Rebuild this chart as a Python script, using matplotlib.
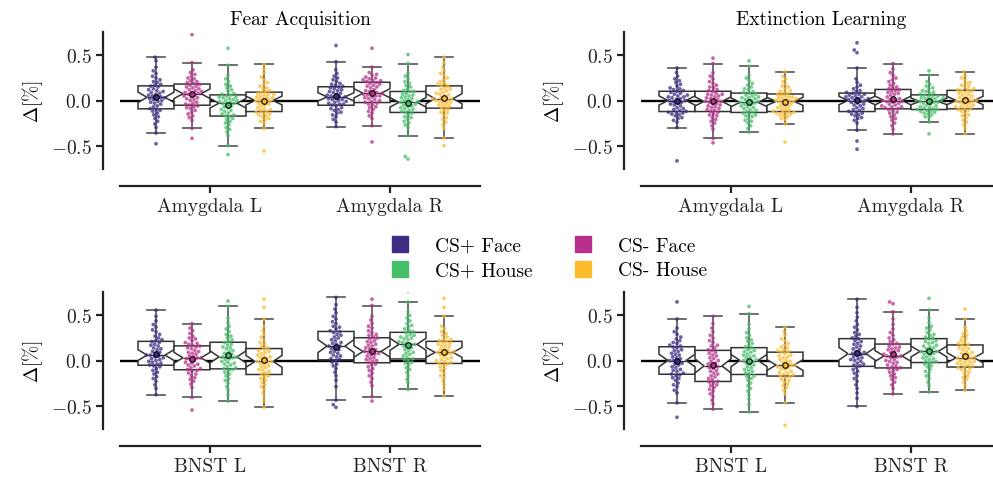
import pandas as pd
import matplotlib
matplotlib.use("Agg")
import matplotlib.pyplot as plt
import seaborn as sns
from matplotlib.lines import Line2D

plt.rcParams["font.family"] = "serif"
plt.rcParams["font.serif"] = ["cmr10"]
plt.rcParams["mathtext.fontset"] = "cm"
plt.rcParams["axes.formatter.use_mathtext"] = True
plt.rcParams["axes.unicode_minus"] = True

conditions = ["CS+ Face", "CS- Face", "CS+ House", "CS- House"]
colors = ["#3e2c84", "#b8308b", "#46bf6a", "#fcba2c"]
phases = ["Fear Acquisition", "Extinction Learning"]
roi_rows = [["Amygdala L", "Amygdala R"], ["BNST L", "BNST R"]]

# signal change per subject, in hundredths of a percent
# order inside each list of lists: CS+ Face, CS- Face, CS+ House, CS- House
fa_amy_l = [
    [-48, -36, -30, -26, -23, -20, -18, -16, -14, -12, -11, -10, -9, -7, -6, -4, -3, -2, -1, 0, 1, 2, 3, 3,
     4, 5, 6, 7, 8, 9, 10, 11, 12, 13, 15, 16, 17, 18, 20, 21, 23, 25, 27, 30, 33, 37, 44, 48],
    [-42, -31, -22, -19, -17, -15, -13, -11, -9, -8, -7, -6, -5, -4, -3, -2, 0, 1, 2, 3, 4, 5, 6, 7,
     8, 9, 9, 10, 11, 12, 13, 14, 15, 16, 17, 18, 19, 20, 21, 22, 24, 25, 27, 29, 31, 34, 42, 73],
    [-60, -50, -39, -35, -32, -30, -27, -25, -23, -21, -20, -18, -17, -16, -15, -14, -12, -11, -10, -8, -7, -6, -4, -3,
     -3, -2, -1, 0, 0, 1, 2, 3, 4, 4, 5, 6, 7, 8, 10, 12, 14, 16, 18, 21, 24, 28, 39, 58],
    [-56, -31, -25, -23, -21, -20, -18, -17, -16, -15, -14, -13, -12, -11, -10, -9, -8, -6, -5, -4, -3, -2, -1, 0,
     0, 1, 2, 3, 3, 4, 5, 6, 7, 7, 8, 9, 10, 11, 13, 14, 16, 18, 20, 23, 26, 30, 35, 40],
]
fa_amy_r = [
    [-29, -24, -21, -18, -16, -14, -13, -11, -10, -9, -8, -6, -5, -4, -4, -3, -2, -1, 0, 1, 1, 2, 3, 4,
     4, 5, 6, 7, 8, 9, 10, 11, 12, 13, 14, 15, 16, 17, 18, 19, 21, 23, 25, 27, 30, 34, 43, 61],
    [-46, -28, -20, -17, -14, -12, -10, -8, -7, -5, -4, -3, -2, -1, 0, 1, 2, 3, 4, 5, 5, 6, 7, 8,
     8, 9, 10, 11, 12, 14, 15, 16, 17, 18, 19, 20, 21, 22, 22, 23, 24, 25, 26, 28, 29, 31, 37, 58],
    [-65, -62, -39, -30, -27, -25, -23, -21, -19, -18, -16, -14, -13, -12, -11, -10, -9, -8, -7, -6, -5, -4, -3, -2,
     -2, -1, 0, 1, 2, 3, 4, 5, 6, 7, 8, 10, 10, 11, 13, 15, 17, 19, 21, 24, 27, 30, 41, 51],
    [-50, -42, -31, -27, -24, -21, -19, -16, -14, -13, -11, -10, -8, -7, -6, -5, -4, -3, -2, -1, 0, 0, 1, 2,
     2, 3, 5, 6, 7, 8, 9, 11, 12, 13, 14, 16, 17, 18, 19, 21, 23, 25, 28, 30, 33, 37, 42, 48],
]
el_amy_l = [
    [-67, -30, -24, -22, -20, -19, -17, -16, -15, -14, -13, -13, -12, -11, -10, -9, -8, -6, -5, -4, -3, -2, -1, 0,
     0, 1, 2, 3, 4, 4, 5, 6, 7, 8, 9, 10, 11, 12, 13, 14, 16, 18, 20, 22, 24, 27, 31, 36],
    [-47, -42, -32, -28, -25, -23, -21, -19, -17, -16, -15, -13, -12, -11, -10, -9, -8, -7, -6, -5, -4, -3, -2, -1,
     -1, 0, 1, 2, 3, 4, 5, 6, 7, 7, 8, 10, 11, 12, 14, 15, 17, 19, 21, 24, 27, 31, 41, 47],
    [-35, -31, -28, -25, -23, -22, -20, -18, -17, -16, -15, -14, -13, -12, -11, -10, -9, -8, -7, -6, -5, -4, -3, -2,
     -2, -1, 0, 1, 2, 3, 3, 4, 5, 6, 7, 8, 9, 10, 12, 13, 15, 17, 19, 22, 25, 28, 38, 44],
    [-46, -26, -21, -20, -18, -17, -16, -15, -14, -14, -13, -13, -12, -11, -10, -9, -8, -7, -6, -5, -4, -3, -2, -1,
     -1, 0, 0, 1, 2, 2, 3, 4, 4, 5, 6, 7, 8, 9, 10, 11, 13, 15, 16, 18, 21, 24, 27, 32],
]
el_amy_r = [
    [-54, -45, -33, -25, -22, -20, -19, -17, -16, -15, -14, -13, -12, -11, -10, -9, -8, -6, -5, -4, -3, -2, -1, 0,
     0, 1, 2, 2, 3, 4, 4, 5, 6, 7, 7, 8, 9, 10, 11, 13, 15, 17, 20, 24, 36, 53, 56, 64],
    [-37, -32, -28, -25, -22, -20, -18, -16, -14, -13, -11, -10, -9, -8, -7, -7, -6, -5, -4, -3, -2, -1, -1, 0,
     0, 1, 2, 3, 4, 6, 7, 8, 9, 10, 11, 12, 13, 14, 15, 17, 19, 21, 23, 25, 28, 31, 35, 41],
    [-37, -24, -19, -18, -16, -15, -14, -13, -12, -12, -11, -10, -10, -9, -8, -8, -7, -6, -5, -4, -3, -2, -2, -1,
     -1, 0, 0, 1, 2, 2, 3, 3, 4, 5, 5, 6, 7, 8, 9, 10, 11, 13, 14, 16, 18, 21, 28, 33],
    [-37, -31, -27, -24, -22, -19, -17, -16, -14, -12, -11, -10, -9, -8, -7, -7, -6, -5, -4, -3, -2, -1, -1, 0,
     0, 1, 2, 3, 4, 5, 6, 7, 8, 9, 10, 11, 12, 12, 13, 15, 16, 17, 19, 20, 23, 25, 28, 32],
]
fa_bnst_l = [
    [-38, -31, -27, -23, -20, -18, -15, -13, -11, -9, -7, -6, -5, -4, -3, -2, -1, 0, 1, 2, 3, 4, 5, 6,
     6, 8, 9, 10, 12, 13, 14, 16, 17, 18, 20, 21, 22, 23, 25, 27, 29, 32, 34, 37, 40, 44, 49, 56],
    [-55, -41, -30, -26, -23, -21, -19, -17, -15, -14, -12, -11, -10, -9, -8, -6, -5, -4, -3, -2, 0, 1, 2, 3,
     3, 4, 5, 7, 8, 9, 10, 11, 13, 14, 15, 16, 17, 18, 19, 20, 22, 24, 25, 27, 30, 33, 36, 41],
    [-45, -38, -33, -29, -25, -22, -20, -17, -15, -13, -11, -10, -9, -8, -7, -5, -4, -3, -2, -1, 1, 2, 3, 4,
     4, 6, 7, 8, 10, 11, 13, 14, 15, 17, 18, 20, 21, 23, 25, 27, 29, 32, 35, 38, 42, 47, 60, 66],
    [-52, -45, -40, -36, -32, -29, -27, -24, -22, -20, -18, -17, -15, -14, -12, -11, -10, -8, -7, -6, -4, -3, -2, -1,
     -1, 0, 2, 3, 4, 5, 6, 8, 9, 10, 11, 13, 14, 16, 18, 20, 23, 26, 29, 33, 38, 46, 59, 68],
]
fa_bnst_r = [
    [-52, -49, -44, -29, -22, -17, -13, -9, -6, -4, -2, 0, 1, 2, 4, 5, 6, 8, 9, 10, 12, 13, 14, 16,
     16, 18, 19, 20, 22, 23, 25, 26, 28, 29, 31, 32, 33, 35, 37, 38, 41, 43, 46, 49, 53, 57, 62, 70],
    [-45, -40, -28, -24, -20, -17, -14, -11, -9, -7, -5, -4, -2, -1, 0, 1, 2, 3, 5, 6, 7, 8, 9, 10,
     10, 12, 13, 14, 16, 17, 18, 20, 21, 22, 24, 25, 26, 28, 29, 31, 33, 36, 38, 41, 45, 49, 61, 68],
    [-32, -25, -21, -17, -13, -10, -8, -5, -3, -2, 0, 1, 2, 4, 5, 7, 8, 9, 11, 12, 14, 15, 16, 18,
     18, 19, 20, 21, 23, 24, 25, 26, 27, 28, 29, 31, 32, 33, 35, 37, 39, 41, 44, 47, 50, 54, 65, 77],
    [-39, -32, -27, -23, -19, -17, -14, -11, -9, -7, -5, -4, -3, -2, -1, 0, 1, 2, 3, 4, 6, 7, 8, 9,
     9, 10, 11, 12, 13, 15, 16, 17, 18, 19, 20, 21, 22, 23, 24, 26, 28, 30, 32, 35, 38, 49, 59, 69],
]
el_bnst_l = [
    [-63, -47, -36, -33, -29, -27, -25, -22, -20, -19, -17, -16, -15, -14, -12, -11, -10, -8, -7, -5, -4, -3, -1, 0,
     0, 2, 3, 4, 6, 7, 8, 10, 11, 12, 14, 15, 16, 17, 19, 20, 22, 24, 26, 29, 32, 36, 46, 65],
    [-54, -48, -44, -40, -37, -34, -32, -30, -28, -27, -25, -24, -23, -21, -20, -18, -17, -15, -14, -12, -11, -9, -8, -7,
     -5, -4, -3, -1, 0, 2, 3, 5, 6, 8, 9, 11, 12, 14, 16, 17, 20, 22, 25, 28, 32, 36, 41, 49],
    [-57, -49, -43, -38, -34, -31, -28, -25, -22, -20, -18, -17, -15, -14, -12, -11, -10, -8, -7, -5, -4, -3, -1, 0,
     0, 1, 3, 4, 5, 6, 7, 9, 10, 11, 12, 14, 15, 17, 19, 21, 23, 25, 28, 31, 35, 40, 52, 60],
    [-72, -47, -37, -33, -30, -28, -26, -24, -22, -21, -19, -18, -17, -16, -15, -14, -13, -12, -10, -9, -8, -7, -6, -5,
     -5, -4, -2, -1, 0, 1, 3, 4, 5, 6, 8, 9, 10, 11, 12, 14, 15, 17, 19, 22, 24, 28, 32, 37],
]
el_bnst_r = [
    [-51, -42, -36, -31, -27, -23, -20, -17, -14, -12, -10, -8, -6, -5, -4, -3, -1, 0, 1, 2, 3, 4, 6, 7,
     8, 9, 10, 12, 13, 15, 16, 18, 19, 21, 22, 24, 25, 27, 29, 31, 34, 37, 40, 44, 48, 53, 59, 68],
    [-37, -31, -27, -24, -21, -19, -17, -15, -13, -11, -10, -9, -8, -7, -6, -5, -3, -2, -1, 0, 1, 3, 4, 5,
     5, 6, 7, 9, 10, 11, 12, 13, 14, 15, 16, 18, 19, 21, 23, 25, 28, 31, 35, 40, 46, 54, 63, 65],
    [-35, -28, -24, -20, -17, -14, -12, -10, -7, -6, -4, -3, -2, -1, 0, 1, 2, 3, 4, 6, 7, 8, 9, 10,
     10, 11, 13, 14, 15, 16, 17, 19, 20, 21, 22, 24, 25, 26, 28, 29, 31, 34, 36, 38, 42, 47, 56, 69],
    [-33, -28, -24, -21, -19, -17, -15, -13, -11, -10, -9, -8, -7, -6, -5, -4, -3, -2, -2, -1, 0, 1, 2, 3,
     3, 4, 6, 7, 8, 9, 10, 12, 13, 14, 15, 17, 18, 19, 20, 22, 24, 26, 28, 30, 33, 37, 46, 57],
]

panel_data = {
    (0, 0): [fa_amy_l, fa_amy_r],
    (0, 1): [el_amy_l, el_amy_r],
    (1, 0): [fa_bnst_l, fa_bnst_r],
    (1, 1): [el_bnst_l, el_bnst_r],
}

W, H = 993, 485
fig = plt.figure(figsize=(W / 100, H / 100), dpi=100)

box_w = 0.2
offsets = [-0.3, -0.1, 0.1, 0.3]

for (r, c), groups in panel_data.items():
    left = [120, 641][c] / W
    bottom = 1 - [170, 430][r] / H
    ax = fig.add_axes([left, bottom, 360 / W, 137 / H])
    rois = roi_rows[r]

    ax.axhline(0, color="black", lw=1.7, zorder=1)

    rows = []
    for i, roi in enumerate(rois):
        for j, cond in enumerate(conditions):
            vals = [v / 100 for v in groups[i][j]]
            pos = round(i + offsets[j], 2)
            bp = ax.boxplot(vals, positions=[pos], widths=box_w, notch=True,
                            showfliers=False, showmeans=True, patch_artist=True,
                            manage_ticks=False, zorder=2,
                            boxprops=dict(facecolor="white", edgecolor="#333333", lw=1.1),
                            whiskerprops=dict(color="#555555", lw=1.2),
                            capprops=dict(color="#555555", lw=1.2),
                            medianprops=dict(color="#333333", lw=1.0),
                            meanprops=dict(marker="o", markerfacecolor=colors[j],
                                           markeredgecolor="black", markeredgewidth=0.8,
                                           markersize=4))
            bp["means"][0].set_zorder(5)
            for v in vals:
                rows.append({"pos": pos, "value": v, "condition": cond})
    df = pd.DataFrame(rows)

    sns.swarmplot(data=df, x="pos", y="value", hue="condition", hue_order=conditions,
                  palette=colors, native_scale=True, size=2.7, alpha=0.75, linewidth=0,
                  legend=False, ax=ax, zorder=3)

    ax.set_xlim(-0.5, 1.5)
    ax.set_ylim(-0.76, 0.76)
    ax.set_xticks([0, 1])
    ax.set_xticklabels(rois)
    ax.set_yticks([-0.5, 0, 0.5])
    ax.set_xlabel("")
    ax.set_ylabel(r"$\Delta[\%]$", fontsize=14)
    if r == 0:
        ax.set_title(phases[c], fontsize=14)

    for side in ["top", "right"]:
        ax.spines[side].set_visible(False)
    for side in ["left", "bottom"]:
        ax.spines[side].set_position(("outward", 12))
        ax.spines[side].set_linewidth(1.6)
        ax.spines[side].set_color("#222222")
    ax.tick_params(labelsize=14, width=1.6, length=5, color="#222222", labelcolor="#222222")

# legend fills column by column: CS+ entries left, CS- entries right
legend_order = [0, 2, 1, 3]
handles = [Line2D([], [], marker="s", ls="", markersize=11, color=colors[k]) for k in legend_order]
labels = [conditions[k] for k in legend_order]
fig.legend(handles, labels, loc="center", bbox_to_anchor=(0.548, 0.466), ncol=2,
           frameon=False, fontsize=14, columnspacing=1.6, labelspacing=0.35)

fig.savefig("out.png", dpi=100)
